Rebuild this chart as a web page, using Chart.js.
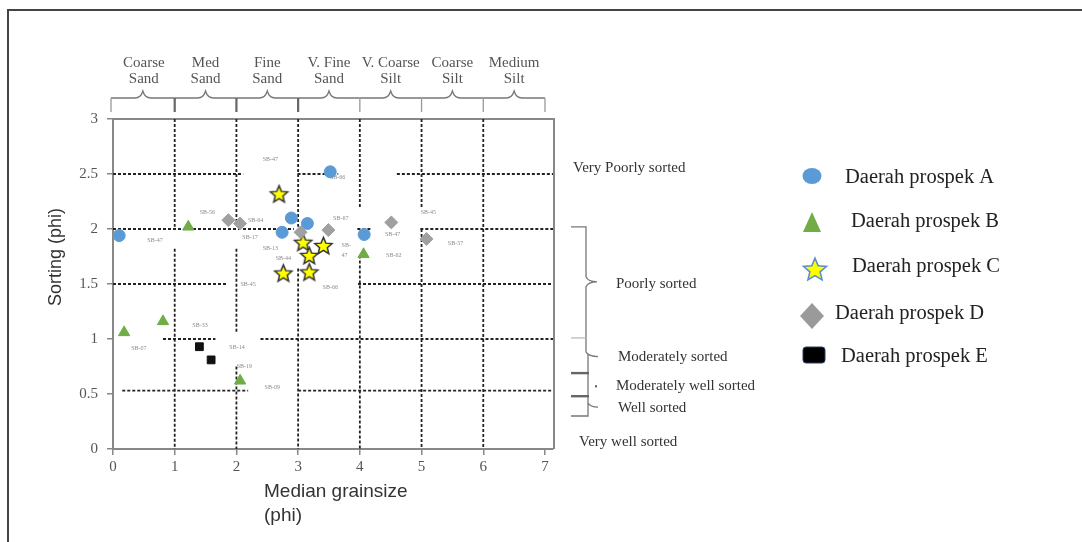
<!DOCTYPE html>
<html>
<head>
<meta charset="utf-8">
<script src="https://cdn.jsdelivr.net/npm/chart.js@4.4.1/dist/chart.umd.min.js"></script>
<style>
  html, body { margin: 0; padding: 0; background: #fff; }
  #wrap { position: relative; width: 1082px; height: 542px; overflow: hidden; }
  #frame { position: absolute; left: 7px; top: 9px; width: 1080px; height: 540px;
           border-top: 2px solid #444; border-left: 2px solid #444; }
  #chart { position: absolute; left: 0; top: 0; }
</style>
</head>
<body>
<div id="wrap"><div id="frame"></div><canvas id="chart" width="1082" height="542"></canvas></div>
<script>
// ---- data ----
const xTicks = [0, 1, 2, 3, 4, 5, 6, 7];
const yTicks = [0, 0.5, 1, 1.5, 2, 2.5, 3];

const grainClasses = [
  ['Coarse', 'Sand'], ['Med', 'Sand'], ['Fine', 'Sand'], ['V. Fine', 'Sand'],
  ['V. Coarse', 'Silt'], ['Coarse', 'Silt'], ['Medium', 'Silt']
];
const sortingClasses = ['Very Poorly sorted', 'Poorly sorted', 'Moderately sorted',
  'Moderately well sorted', 'Well sorted', 'Very well sorted'];
const sortingValues = [2.55, 1.5, 0.84, 0.57, 0.37, 0.06];

const seriesNames = ['Daerah prospek A', 'Daerah prospek B', 'Daerah prospek C',
  'Daerah prospek D', 'Daerah prospek E'];

const prospekA = [
  {x: 0.10, y: 1.94}, {x: 3.52, y: 2.52}, {x: 2.89, y: 2.10},
  {x: 3.15, y: 2.05}, {x: 2.74, y: 1.97}, {x: 4.07, y: 1.95}
];
const prospekB = [
  {x: 1.22, y: 2.02}, {x: 4.06, y: 1.77}, {x: 0.18, y: 1.06},
  {x: 0.81, y: 1.16}, {x: 2.06, y: 0.62}
];
const prospekC = [
  {x: 2.69, y: 2.32}, {x: 3.08, y: 1.88}, {x: 3.41, y: 1.85},
  {x: 3.18, y: 1.76}, {x: 2.76, y: 1.60}, {x: 3.18, y: 1.61}
];
const prospekD = [
  {x: 1.87, y: 2.08}, {x: 2.06, y: 2.05}, {x: 3.04, y: 1.97},
  {x: 3.49, y: 1.99}, {x: 4.51, y: 2.06}, {x: 5.08, y: 1.91}
];
const prospekE = [
  {x: 1.40, y: 0.93}, {x: 1.59, y: 0.81}
];

// small sample codes printed beside the points
const sampleLabels = [
  ['SB-47', 2.55, 2.63], ['SB-66', 3.64, 2.47], ['SB-56', 1.53, 2.15], ['SB-64', 2.31, 2.08],
  ['SB-47', 0.68, 1.90], ['SB-17', 2.22, 1.92], ['SB-67', 3.69, 2.10], ['SB-45', 5.11, 2.15],
  ['SB-47', 4.53, 1.95], ['SB-57', 5.55, 1.87], ['SB-62', 4.55, 1.76], ['SB-', 3.78, 1.85],
  ['47', 3.75, 1.76], ['SB-13', 2.55, 1.82], ['SB-44', 2.76, 1.73], ['SB-45', 2.19, 1.50],
  ['SB-66', 3.52, 1.47], ['SB-07', 0.42, 0.91], ['SB-33', 1.41, 1.12], ['SB-14', 2.01, 0.92],
  ['SB-19', 2.13, 0.75], ['SB-09', 2.58, 0.56]
];

// dashed class boundaries: [y, x from, x to] and [x, y from, y to]
const gridH = [
  [2.5, 0, 2.11], [2.5, 2.99, 3.65], [2.5, 4.6, 7.13],
  [2.0, 0, 2.93], [2.0, 3.96, 4.17], [2.0, 4.98, 7.13],
  [1.5, 0, 1.85], [1.5, 3.97, 7.13],
  [1.0, 0.81, 1.66], [1.0, 2.39, 7.13],
  [0.53, 0.15, 2.19], [0.53, 3.0, 7.13]
];
const gridV = [
  [1, 3, 2.02], [1, 1.82, 0],
  [2, 3, 2.07], [2, 1.82, 1.06], [2, 0.75, 0],
  [3, 3, 2.02], [3, 1.64, 0],
  [4, 3, 2.2], [4, 1.76, 0],
  [5, 3, 2.2], [5, 2.0, 0],
  [6, 3, 0]
];

// ---- helpers ----
function starImage(r, fill, stroke, lw) {
  const c = document.createElement('canvas');
  const s = Math.ceil(2 * r + lw * 2 + 2);
  c.width = s; c.height = s;
  const g = c.getContext('2d');
  g.translate(s / 2, s / 2 + r * 0.1);
  g.beginPath();
  for (let i = 0; i < 10; i++) {
    const rad = i % 2 ? r * 0.45 : r;
    const a = -Math.PI / 2 + i * Math.PI / 5;
    g.lineTo(rad * Math.cos(a), rad * Math.sin(a));
  }
  g.closePath();
  g.fillStyle = fill; g.fill();
  g.lineWidth = lw; g.strokeStyle = stroke; g.stroke();
  return c;
}

const gridPts = [];
gridH.forEach(([y, x1, x2]) => gridPts.push({x: x1, y}, {x: x2, y}, {x: x2, y: null}));
gridV.forEach(([x, y1, y2]) => gridPts.push({x, y: y1}, {x, y: y2}, {x, y: null}));

const serif = '"Liberation Serif", "DejaVu Serif", serif';
const sans = '"Liberation Sans", Arial, sans-serif';

// ---- decorations (frame, brackets, class labels, legend) ----
const decor = {
  id: 'decor',
  beforeDatasetsDraw(chart) {
    const {ctx, chartArea: a, scales: {x, y}} = chart;
    ctx.save();
    ctx.strokeStyle = '#888'; ctx.lineWidth = 2;
    ctx.beginPath();
    ctx.moveTo(a.left, a.top); ctx.lineTo(a.right + 1, a.top); ctx.lineTo(a.right + 1, a.bottom);
    ctx.stroke();

    ctx.fillStyle = '#8a8a8a';
    ctx.font = '6px ' + serif;
    ctx.textAlign = 'center'; ctx.textBaseline = 'middle';
    sampleLabels.forEach(([t, vx, vy]) => ctx.fillText(t, x.getPixelForValue(vx), y.getPixelForValue(vy)));
    ctx.restore();
  },
  afterDraw(chart) {
    const {ctx, chartArea: a, scales: {x, y}} = chart;
    ctx.save();

    // top grain-size brackets
    const yl = a.top - 21;
    ctx.strokeStyle = '#777'; ctx.lineWidth = 1.3;
    for (let i = 0; i < grainClasses.length; i++) {
      const x1 = x.getPixelForValue(i) - (i === 0 ? 2 : 0), x2 = x.getPixelForValue(i + 1), m = (x1 + x2) / 2;
      ctx.beginPath();
      ctx.moveTo(x1, yl);
      ctx.lineTo(m - 8, yl);
      ctx.quadraticCurveTo(m - 2, yl, m, yl - 7);
      ctx.quadraticCurveTo(m + 2, yl, m + 8, yl);
      ctx.lineTo(x2, yl);
      ctx.stroke();
    }
    xTicks.forEach((v, i) => {
      const px = x.getPixelForValue(v) - (i === 0 ? 2 : 0);
      ctx.lineWidth = (i >= 1 && i <= 3) ? 2.2 : 1.3;
      ctx.strokeStyle = (i >= 1 && i <= 3) ? '#666' : '#999';
      ctx.beginPath(); ctx.moveTo(px, yl); ctx.lineTo(px, a.top - 7); ctx.stroke();
    });
    ctx.fillStyle = '#555';
    ctx.font = '15px ' + serif;
    ctx.textAlign = 'center'; ctx.textBaseline = 'middle';
    grainClasses.forEach(([l1, l2], i) => {
      const m = x.getPixelForValue(i + 0.5);
      ctx.fillText(l1, m, a.top - 56);
      ctx.fillText(l2, m, a.top - 40);
    });

    // right sorting brackets
    const r = a.right;
    const py = v => y.getPixelForValue(v);
    ctx.strokeStyle = '#777'; ctx.lineWidth = 1.3;
    ctx.beginPath();
    ctx.moveTo(r + 18, py(2.02)); ctx.lineTo(r + 33, py(2.02));
    ctx.lineTo(r + 33, py(1.52) - 5); ctx.quadraticCurveTo(r + 35, py(1.52), r + 44, py(1.52));
    ctx.quadraticCurveTo(r + 35, py(1.52), r + 33, py(1.52) + 5);
    ctx.lineTo(r + 33, py(0.88));
    ctx.stroke();
    ctx.strokeStyle = '#bbb';
    ctx.beginPath(); ctx.moveTo(r + 18, py(1.01)); ctx.lineTo(r + 33, py(1.01)); ctx.stroke();
    ctx.strokeStyle = '#777';
    ctx.beginPath();
    ctx.moveTo(r + 33, py(0.88)); ctx.quadraticCurveTo(r + 36, py(0.84), r + 45, py(0.84));
    ctx.moveTo(r + 35, py(0.86)); ctx.lineTo(r + 35, py(0.30)); ctx.lineTo(r + 18, py(0.30));
    ctx.moveTo(r + 35, py(0.42)); ctx.quadraticCurveTo(r + 37, py(0.38), r + 45, py(0.38));
    ctx.stroke();
    ctx.lineWidth = 2.4; ctx.strokeStyle = '#666';
    [0.69, 0.48].forEach(v => {
      ctx.beginPath(); ctx.moveTo(r + 18, py(v)); ctx.lineTo(r + 36, py(v)); ctx.stroke();
    });
    ctx.fillStyle = '#555';
    ctx.fillRect(r + 42, py(0.57) - 1, 2, 2);

    ctx.fillStyle = '#333';
    ctx.font = '15px ' + serif;
    ctx.textAlign = 'left'; ctx.textBaseline = 'middle';
    const sortX = [20, 63, 65, 63, 65, 26];
    sortingClasses.forEach((t, i) => ctx.fillText(t, r + sortX[i], py(sortingValues[i])));

    // axis titles
    ctx.fillStyle = '#333';
    ctx.font = '19px ' + sans;
    ctx.fillText('Median grainsize', 264, 492);
    ctx.fillText('(phi)', 264, 516);
    ctx.save();
    ctx.translate(56, 257); ctx.rotate(-Math.PI / 2);
    ctx.textAlign = 'center';
    ctx.font = '18px ' + sans;
    ctx.fillText('Sorting (phi)', 0, 0);
    ctx.restore();

    // legend
    const lx = 812;
    ctx.fillStyle = '#5b9bd5';
    ctx.beginPath(); ctx.ellipse(lx, 176, 9.5, 8, 0, 0, Math.PI * 2); ctx.fill();
    ctx.fillStyle = '#70ad47';
    ctx.beginPath(); ctx.moveTo(lx, 212); ctx.lineTo(lx + 9, 232); ctx.lineTo(lx - 9, 232); ctx.closePath(); ctx.fill();
    const st = starImage(12, '#ffff00', '#5b8fc7', 1.6);
    ctx.drawImage(st, lx + 3 - st.width / 2, 269 - st.height / 2);
    ctx.fillStyle = '#9a9a9a';
    ctx.beginPath(); ctx.moveTo(lx, 303); ctx.lineTo(lx + 12, 316); ctx.lineTo(lx, 329); ctx.lineTo(lx - 12, 316); ctx.closePath(); ctx.fill();
    ctx.fillStyle = '#000'; ctx.strokeStyle = '#2b3f6a'; ctx.lineWidth = 1;
    ctx.beginPath(); ctx.roundRect(lx - 9, 347, 22, 16, 3); ctx.fill(); ctx.stroke();

    ctx.fillStyle = '#222';
    ctx.font = '20.5px ' + serif;
    const legX = [845, 851, 852, 835, 841], legY = [178, 222, 267, 314, 357];
    seriesNames.forEach((t, i) => ctx.fillText(t, legX[i], legY[i]));
    ctx.restore();
  }
};

const common = {showLine: false, order: 1, borderWidth: 1};

new Chart(document.getElementById('chart'), {
  type: 'scatter',
  data: {
    datasets: [
      {label: seriesNames[0], data: prospekA, pointStyle: 'circle', pointRadius: 6,
       backgroundColor: '#5b9bd5', borderColor: '#5b9bd5', ...common},
      {label: seriesNames[1], data: prospekB, pointStyle: 'triangle', pointRadius: 6.5,
       backgroundColor: '#70ad47', borderColor: '#70ad47', ...common},
      {label: seriesNames[3], data: prospekD, pointStyle: 'rectRot', pointRadius: 6.5,
       backgroundColor: '#a0a0a0', borderColor: '#a0a0a0', ...common},
      {label: seriesNames[2], data: prospekC, pointStyle: starImage(9, '#ffff00', '#333', 1.5),
       pointRadius: 9, ...common},
      {label: seriesNames[4], data: prospekE, pointStyle: 'rect', pointRadius: 5.5,
       backgroundColor: '#111', borderColor: '#111', ...common},
      {label: 'grid', data: gridPts, showLine: true, spanGaps: false, pointRadius: 0,
       borderColor: '#222', borderWidth: 1.8, borderDash: [3, 2], order: 10}
    ]
  },
  options: {
    responsive: false,
    animation: false,
    events: [],
    layout: {padding: {left: 0, top: 119, right: 529, bottom: 0}},
    plugins: {legend: {display: false}, tooltip: {enabled: false}},
    scales: {
      x: {
        type: 'linear', min: 0, max: 7.13,
        afterFit: s => { s.height = 93; },
        afterBuildTicks: s => { s.ticks = xTicks.map(v => ({value: v})); },
        border: {color: '#888', width: 2},
        grid: {drawOnChartArea: false, drawTicks: true, tickLength: 6, color: '#888', lineWidth: 1.5},
        ticks: {color: '#555', font: {family: serif, size: 15}, padding: 3, maxRotation: 0,
                callback: v => String(v)}
      },
      y: {
        type: 'linear', min: 0, max: 3,
        afterFit: s => { s.width = 113; },
        afterBuildTicks: s => { s.ticks = yTicks.map(v => ({value: v})); },
        border: {color: '#888', width: 2},
        grid: {drawOnChartArea: false, drawTicks: true, tickLength: 6, color: '#888', lineWidth: 1.5},
        ticks: {color: '#555', font: {family: serif, size: 15}, padding: 9,
                callback: v => String(v)}
      }
    }
  },
  plugins: [decor]
});
</script>
</body>
</html>
